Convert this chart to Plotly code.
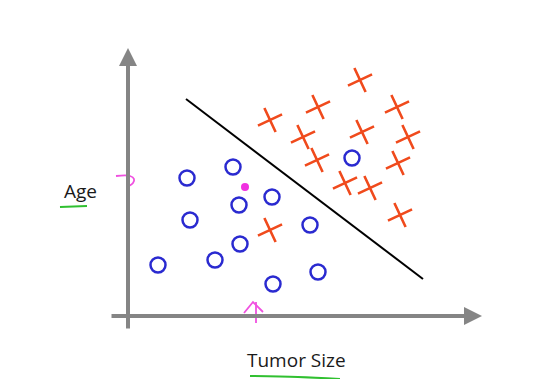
import plotly.graph_objects as go

# Data in chart units: origin at axis intersection, y up
benign_size = [105, 59, 111, 144, 62, 182, 112, 87, 30, 145, 190, 224]
benign_age = [149, 138, 111, 119, 96, 91, 72, 56, 51, 32, 44, 158]
malig_size = [142, 190, 232, 269, 175, 234, 280, 189, 270, 217, 242, 272, 142]
malig_age = [196, 209, 236, 209, 179, 184, 179, 156, 153, 133, 128, 101, 86]
query_size = [117]
query_age = [129]
boundary_size = [58, 295]
boundary_age = [217, 37]

AX_GRAY = "#858585"
fig = go.Figure()

fig.add_trace(go.Scatter(x=boundary_size, y=boundary_age, mode="lines",
                         line=dict(color="black", width=2), hoverinfo="skip"))
fig.add_trace(go.Scatter(x=benign_size, y=benign_age, mode="markers",
                         marker=dict(symbol="circle-open", size=15, color="#2a2ad0",
                                     line=dict(width=2.5, color="#2a2ad0"))))
fig.add_trace(go.Scatter(x=malig_size, y=malig_age, mode="markers",
                         marker=dict(symbol="cross-thin-open", size=19, angle=-25, color="#f04a1c",
                                     line=dict(width=2.6, color="#f04a1c"))))
fig.add_trace(go.Scatter(x=query_size, y=query_age, mode="markers",
                         marker=dict(symbol="circle", size=8, color="#f030e0")))

# magenta hand marks
fig.add_trace(go.Scatter(x=[-12, 2, 6, 5, 1], y=[140, 140, 137, 133, 130], mode="lines",
                         line=dict(color="#f050e0", width=1.8, shape="spline"), hoverinfo="skip"))
fig.add_trace(go.Scatter(x=[128, 128, None, 116, 125, 135], y=[-7, 14, None, 3, 14, 4], mode="lines",
                         line=dict(color="#f050e0", width=1.8), hoverinfo="skip"))

# axes with arrows
fig.add_annotation(x=0, y=268, ax=0, ay=-14, xref="x", yref="y", axref="x", ayref="y",
                   showarrow=True, arrowhead=2, arrowsize=0.9, arrowwidth=4, arrowcolor=AX_GRAY, text="")
fig.add_annotation(x=354, y=0, ax=-18, ay=0, xref="x", yref="y", axref="x", ayref="y",
                   showarrow=True, arrowhead=2, arrowsize=0.9, arrowwidth=4, arrowcolor=AX_GRAY, text="")

# labels
fig.add_annotation(x=-48, y=125, xref="x", yref="y", text="Age", showarrow=False,
                   font=dict(family="Open Sans", size=19, color="#1a1a1a"))
fig.add_annotation(x=168, y=-44, xref="x", yref="y", text="Tumor Size", showarrow=False,
                   font=dict(family="Open Sans", size=19, color="#1a1a1a"))
fig.add_trace(go.Scatter(x=[-68, -41], y=[109, 110], mode="lines",
                         line=dict(color="#30c030", width=2), hoverinfo="skip"))
fig.add_trace(go.Scatter(x=[122, 170, 212], y=[-60, -61, -63], mode="lines",
                         line=dict(color="#30c030", width=2, shape="spline"), hoverinfo="skip"))

# page body has an 8px margin, so the figure is 518x371 placed at (8,8)
fig.update_layout(
    width=518, height=371, showlegend=False,
    margin=dict(l=0, r=0, t=0, b=0),
    paper_bgcolor="white", plot_bgcolor="white",
    xaxis=dict(range=[-120, 398], visible=False, fixedrange=True),
    yaxis=dict(range=[-63, 308], visible=False, fixedrange=True),
)
fig.write_html("out.html")
